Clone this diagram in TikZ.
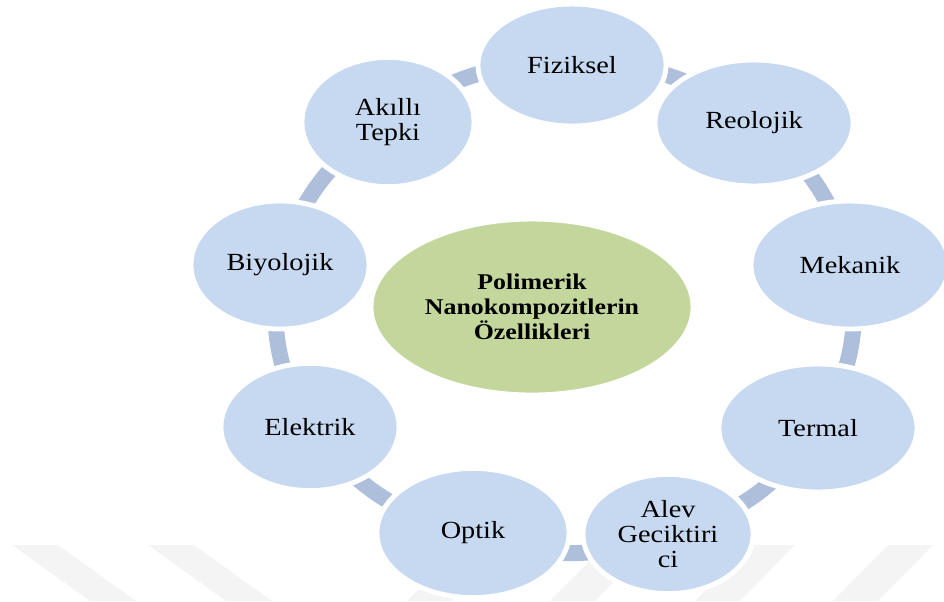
\documentclass[tikz,border=0pt]{standalone}
\usepackage{fontspec}
\setmainfont{Liberation Serif}[FakeStretch=1.15]
\usepackage{tikz}
\usepackage{xcolor}
\usetikzlibrary{shapes.geometric}

\definecolor{bubblue}{HTML}{C6D9F0}
\definecolor{ringblue}{HTML}{AEBFDB}
\definecolor{midgreen}{HTML}{C3D69B}
\definecolor{markgray}{HTML}{F4F4F4}

\pgfdeclarelayer{marks}
\pgfdeclarelayer{ring}
\pgfsetlayers{marks,ring,main}

\begin{document}
\begin{tikzpicture}[x=0.025cm,y=-0.025cm]
	\tikzstyle{bub} = [ellipse, fill=bubblue, draw=white, line width=3.5pt, inner sep=0pt, align=center, font=\fontsize{17.5}{17.8}\selectfont]
	\tikzstyle{mid} = [ellipse, fill=midgreen, draw=white, line width=3.5pt, inner sep=0pt, align=center, font=\fontsize{16}{17.8}\selectfont\bfseries]
	\tikzstyle{link} = [draw=ringblue, line width=0.4cm]
	\useasboundingbox (0,0) rectangle (944,601);

		\node[mid, minimum width=8.05cm, minimum height=4.4cm] (pn) at (532,307) {Polimerik\\Nanokompozitlerin\\Özellikleri};

		\node[bub, minimum width=4.7cm, minimum height=3.05cm] (fiz) at (572,65) {Fiziksel};
		\node[bub, minimum width=4.95cm, minimum height=3.15cm] (reo) at (754,123) {Reolojik};
		\node[bub, minimum width=4.95cm, minimum height=3.2cm] (mek) at (850,265) {Mekanik};
		\node[bub, minimum width=4.95cm, minimum height=3.2cm] (ter) at (818,428) {Termal};
		\node[bub, minimum width=4.25cm, minimum height=2.98cm] (alv) at (668,534) {Alev\\Geciktiri\\ci};
		\node[bub, minimum width=4.8cm, minimum height=3.23cm] (opt) at (473,533) {Optik};
		\node[bub, minimum width=4.45cm, minimum height=3.18cm] (elk) at (310,427) {Elektrik};
		\node[bub, minimum width=4.45cm, minimum height=3.2cm] (biy) at (280,265) {Biyolojik};
		\node[bub, minimum width=4.3cm, minimum height=3.23cm] (aki) at (388,122) {Akıllı\\Tepki};

	\begin{pgfonlayer}{ring}
		\path[link] (fiz.center) to[bend left=20] (reo.center)
			(reo.center) to[bend left=20] (mek.center)
			(mek.center) to[bend left=20] (ter.center)
			(ter.center) to[bend left=20] (alv.center)
			(alv.center) to[bend left=20] (opt.center)
			(opt.center) to[bend left=20] (elk.center)
			(elk.center) to[bend left=20] (biy.center)
			(biy.center) to[bend left=20] (aki.center)
			(aki.center) to[bend left=20] (fiz.center);
	\end{pgfonlayer}

	% faint stripes along the bottom
	\begin{pgfonlayer}{marks}
		\foreach \s in {12,148}
			\fill[markgray] (\s,545) -- (\s+46,545) -- (\s+124,601) -- (\s+78,601) -- cycle;
		\foreach \s in {462,605,750,888}
			\fill[markgray] (\s,545) -- (\s+45,545) -- (\s-10,601) -- (\s-55,601) -- cycle;
	\end{pgfonlayer}
\end{tikzpicture}
\end{document}
